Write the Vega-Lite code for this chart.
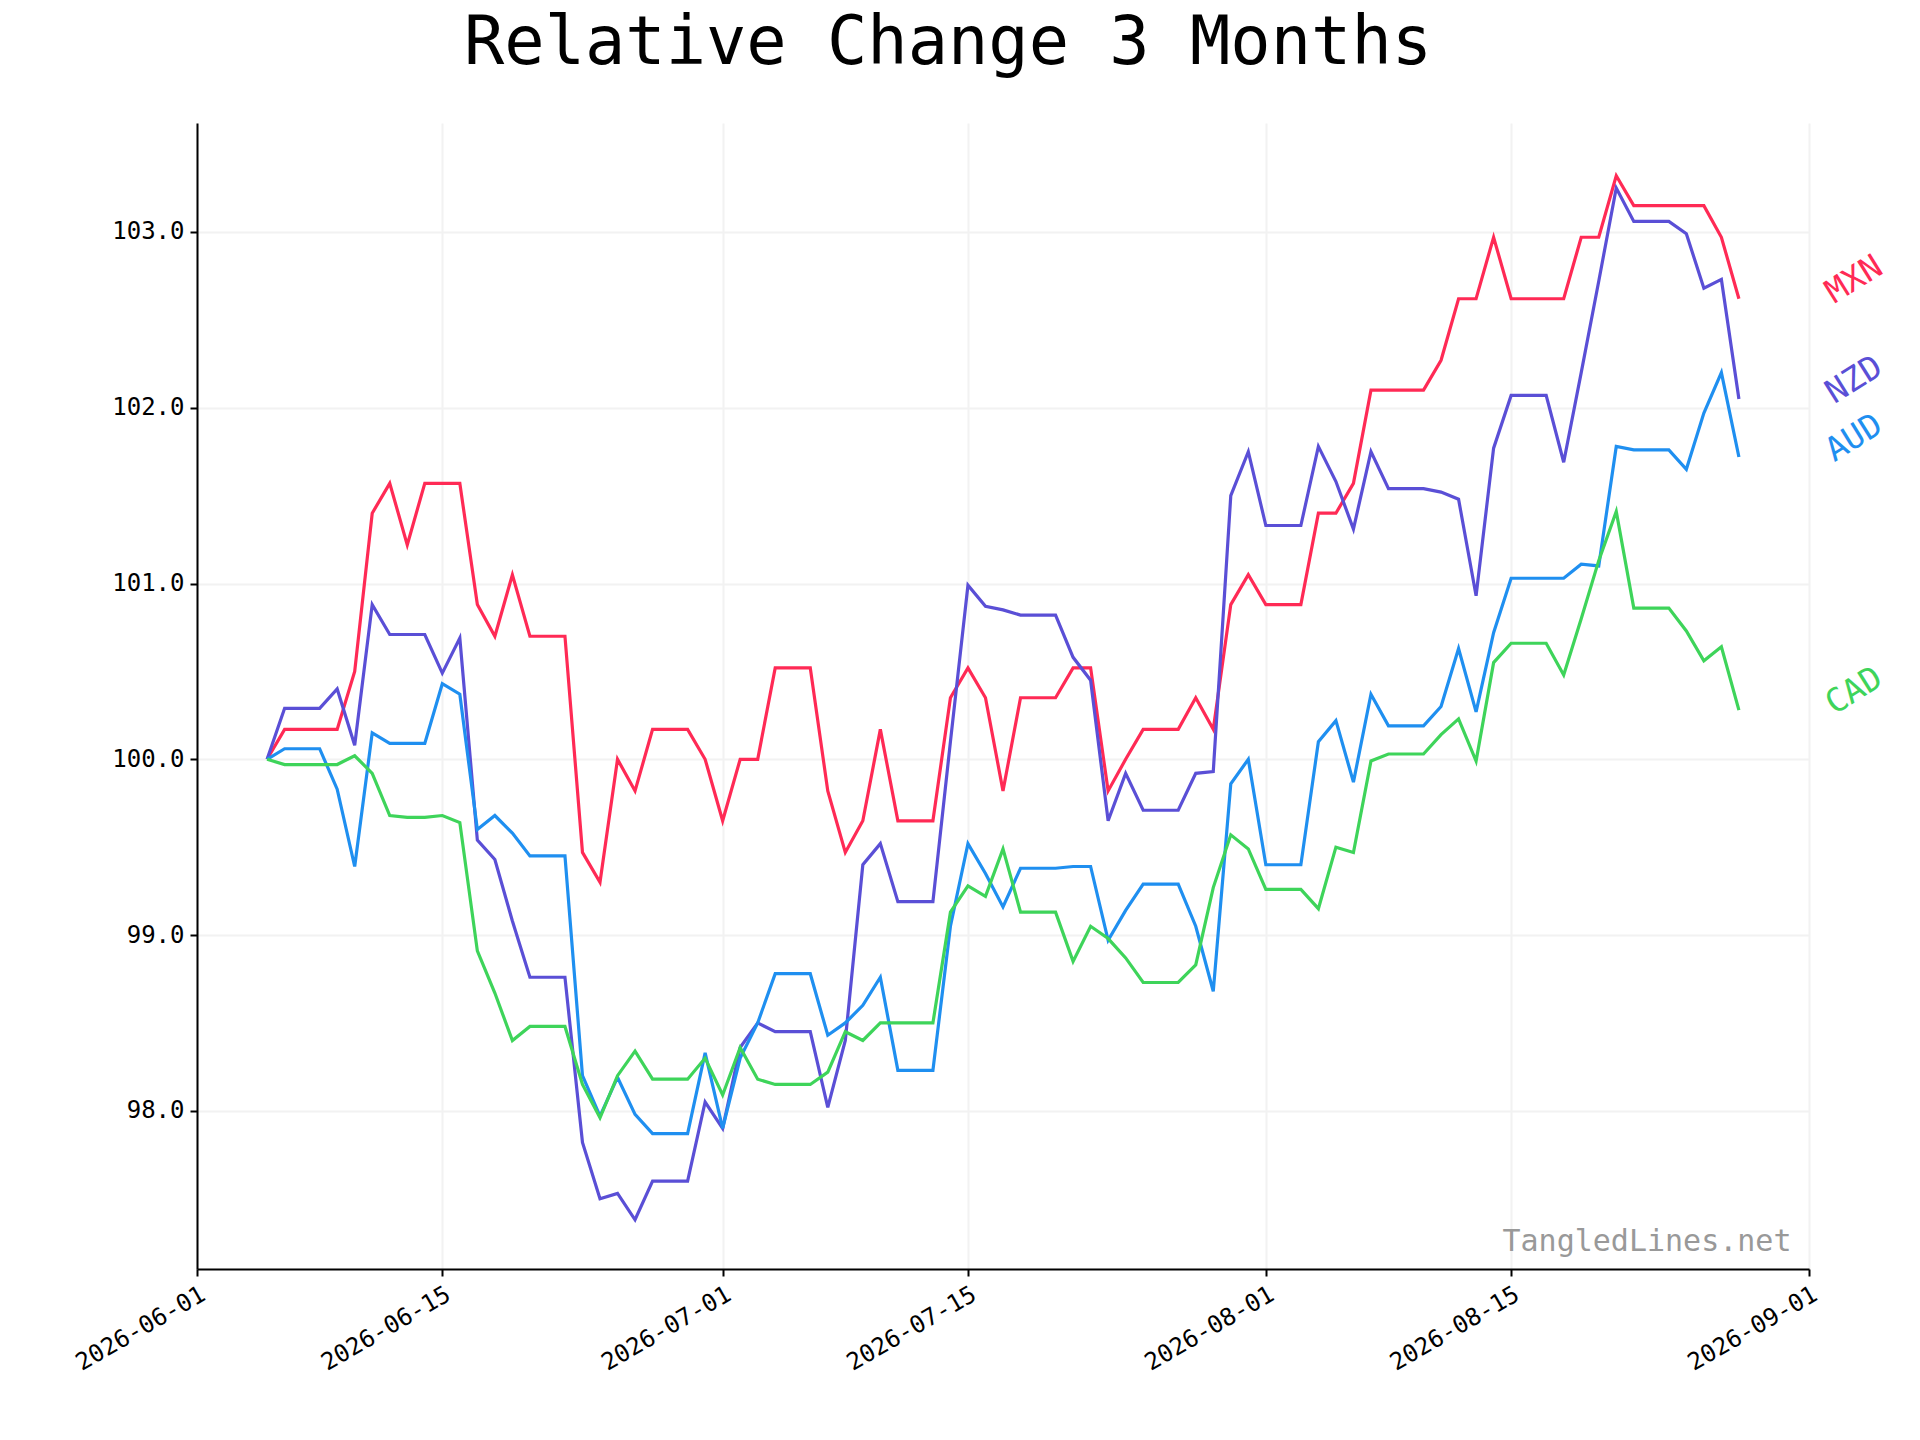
{
  "$schema": "https://vega.github.io/schema/vega-lite/v6.json",
  "autosize": {"type": "none"},
  "width": 1612,
  "height": 1146,
  "padding": {"left": 197, "top": 123, "right": 111, "bottom": 171},
  "background": "white",
  "config": {
    "font": "DejaVu Sans Mono",
    "view": {"stroke": null},
    "axis": {"labelFont": "DejaVu Sans Mono", "labelFontSize": 24, "labelColor": "black", "domainColor": "black", "domainWidth": 2, "tickColor": "black", "tickWidth": 2, "tickSize": 7, "gridColor": "#f2f2f2", "gridWidth": 2, "title": null}
  },
  "title": {"text": "Relative Change 3 Months", "font": "DejaVu Sans Mono", "fontSize": 67, "fontWeight": "normal", "offset": 45, "dx": -55, "color": "black"},
  "datasets": {"fx": [
    {"date":"2026-06-05","MXN":100,"NZD":100,"AUD":100,"CAD":100},
    {"date":"2026-06-06","MXN":100.17,"NZD":100.29,"AUD":100.06,"CAD":99.97},
    {"date":"2026-06-07","MXN":100.17,"NZD":100.29,"AUD":100.06,"CAD":99.97},
    {"date":"2026-06-08","MXN":100.17,"NZD":100.29,"AUD":100.06,"CAD":99.97},
    {"date":"2026-06-09","MXN":100.17,"NZD":100.4,"AUD":99.83,"CAD":99.97},
    {"date":"2026-06-10","MXN":100.5,"NZD":100.08,"AUD":99.39,"CAD":100.02},
    {"date":"2026-06-11","MXN":101.4,"NZD":100.88,"AUD":100.15,"CAD":99.92},
    {"date":"2026-06-12","MXN":101.57,"NZD":100.71,"AUD":100.09,"CAD":99.68},
    {"date":"2026-06-13","MXN":101.22,"NZD":100.71,"AUD":100.09,"CAD":99.67},
    {"date":"2026-06-14","MXN":101.57,"NZD":100.71,"AUD":100.09,"CAD":99.67},
    {"date":"2026-06-15","MXN":101.57,"NZD":100.49,"AUD":100.43,"CAD":99.68},
    {"date":"2026-06-16","MXN":101.57,"NZD":100.69,"AUD":100.37,"CAD":99.64},
    {"date":"2026-06-17","MXN":100.88,"NZD":99.54,"AUD":99.6,"CAD":98.91},
    {"date":"2026-06-18","MXN":100.7,"NZD":99.43,"AUD":99.68,"CAD":98.67},
    {"date":"2026-06-19","MXN":101.05,"NZD":99.08,"AUD":99.58,"CAD":98.4},
    {"date":"2026-06-20","MXN":100.7,"NZD":98.76,"AUD":99.45,"CAD":98.48},
    {"date":"2026-06-21","MXN":100.7,"NZD":98.76,"AUD":99.45,"CAD":98.48},
    {"date":"2026-06-22","MXN":100.7,"NZD":98.76,"AUD":99.45,"CAD":98.48},
    {"date":"2026-06-23","MXN":99.47,"NZD":97.82,"AUD":98.2,"CAD":98.15},
    {"date":"2026-06-24","MXN":99.3,"NZD":97.5,"AUD":97.97,"CAD":97.96},
    {"date":"2026-06-25","MXN":100.0,"NZD":97.53,"AUD":98.19,"CAD":98.2},
    {"date":"2026-06-26","MXN":99.82,"NZD":97.38,"AUD":97.98,"CAD":98.34},
    {"date":"2026-06-27","MXN":100.17,"NZD":97.6,"AUD":97.87,"CAD":98.18},
    {"date":"2026-06-28","MXN":100.17,"NZD":97.6,"AUD":97.87,"CAD":98.18},
    {"date":"2026-06-29","MXN":100.17,"NZD":97.6,"AUD":97.87,"CAD":98.18},
    {"date":"2026-06-30","MXN":100.0,"NZD":98.05,"AUD":98.33,"CAD":98.3},
    {"date":"2026-07-01","MXN":99.65,"NZD":97.9,"AUD":97.9,"CAD":98.09},
    {"date":"2026-07-02","MXN":100.0,"NZD":98.36,"AUD":98.3,"CAD":98.36},
    {"date":"2026-07-03","MXN":100.0,"NZD":98.5,"AUD":98.5,"CAD":98.18},
    {"date":"2026-07-04","MXN":100.52,"NZD":98.45,"AUD":98.78,"CAD":98.15},
    {"date":"2026-07-05","MXN":100.52,"NZD":98.45,"AUD":98.78,"CAD":98.15},
    {"date":"2026-07-06","MXN":100.52,"NZD":98.45,"AUD":98.78,"CAD":98.15},
    {"date":"2026-07-07","MXN":99.82,"NZD":98.02,"AUD":98.43,"CAD":98.22},
    {"date":"2026-07-08","MXN":99.47,"NZD":98.4,"AUD":98.5,"CAD":98.45},
    {"date":"2026-07-09","MXN":99.65,"NZD":99.4,"AUD":98.6,"CAD":98.4},
    {"date":"2026-07-10","MXN":100.17,"NZD":99.52,"AUD":98.76,"CAD":98.5},
    {"date":"2026-07-11","MXN":99.65,"NZD":99.19,"AUD":98.23,"CAD":98.5},
    {"date":"2026-07-12","MXN":99.65,"NZD":99.19,"AUD":98.23,"CAD":98.5},
    {"date":"2026-07-13","MXN":99.65,"NZD":99.19,"AUD":98.23,"CAD":98.5},
    {"date":"2026-07-14","MXN":100.35,"NZD":100.1,"AUD":99.05,"CAD":99.13},
    {"date":"2026-07-15","MXN":100.52,"NZD":100.99,"AUD":99.52,"CAD":99.28},
    {"date":"2026-07-16","MXN":100.35,"NZD":100.87,"AUD":99.35,"CAD":99.22},
    {"date":"2026-07-17","MXN":99.82,"NZD":100.85,"AUD":99.16,"CAD":99.49},
    {"date":"2026-07-18","MXN":100.35,"NZD":100.82,"AUD":99.38,"CAD":99.13},
    {"date":"2026-07-19","MXN":100.35,"NZD":100.82,"AUD":99.38,"CAD":99.13},
    {"date":"2026-07-20","MXN":100.35,"NZD":100.82,"AUD":99.38,"CAD":99.13},
    {"date":"2026-07-21","MXN":100.52,"NZD":100.58,"AUD":99.39,"CAD":98.85},
    {"date":"2026-07-22","MXN":100.52,"NZD":100.45,"AUD":99.39,"CAD":99.05},
    {"date":"2026-07-23","MXN":99.82,"NZD":99.65,"AUD":98.97,"CAD":98.98},
    {"date":"2026-07-24","MXN":100.0,"NZD":99.92,"AUD":99.14,"CAD":98.87},
    {"date":"2026-07-25","MXN":100.17,"NZD":99.71,"AUD":99.29,"CAD":98.73},
    {"date":"2026-07-26","MXN":100.17,"NZD":99.71,"AUD":99.29,"CAD":98.73},
    {"date":"2026-07-27","MXN":100.17,"NZD":99.71,"AUD":99.29,"CAD":98.73},
    {"date":"2026-07-28","MXN":100.35,"NZD":99.92,"AUD":99.05,"CAD":98.83},
    {"date":"2026-07-29","MXN":100.17,"NZD":99.93,"AUD":98.68,"CAD":99.27},
    {"date":"2026-07-30","MXN":100.88,"NZD":101.5,"AUD":99.86,"CAD":99.57},
    {"date":"2026-07-31","MXN":101.05,"NZD":101.75,"AUD":100.0,"CAD":99.49},
    {"date":"2026-08-01","MXN":100.88,"NZD":101.33,"AUD":99.4,"CAD":99.26},
    {"date":"2026-08-02","MXN":100.88,"NZD":101.33,"AUD":99.4,"CAD":99.26},
    {"date":"2026-08-03","MXN":100.88,"NZD":101.33,"AUD":99.4,"CAD":99.26},
    {"date":"2026-08-04","MXN":101.4,"NZD":101.78,"AUD":100.1,"CAD":99.15},
    {"date":"2026-08-05","MXN":101.4,"NZD":101.58,"AUD":100.22,"CAD":99.5},
    {"date":"2026-08-06","MXN":101.57,"NZD":101.31,"AUD":99.87,"CAD":99.47},
    {"date":"2026-08-07","MXN":102.1,"NZD":101.75,"AUD":100.37,"CAD":99.99},
    {"date":"2026-08-08","MXN":102.1,"NZD":101.54,"AUD":100.19,"CAD":100.03},
    {"date":"2026-08-09","MXN":102.1,"NZD":101.54,"AUD":100.19,"CAD":100.03},
    {"date":"2026-08-10","MXN":102.1,"NZD":101.54,"AUD":100.19,"CAD":100.03},
    {"date":"2026-08-11","MXN":102.27,"NZD":101.52,"AUD":100.3,"CAD":100.14},
    {"date":"2026-08-12","MXN":102.62,"NZD":101.48,"AUD":100.63,"CAD":100.23},
    {"date":"2026-08-13","MXN":102.62,"NZD":100.93,"AUD":100.27,"CAD":99.99},
    {"date":"2026-08-14","MXN":102.97,"NZD":101.77,"AUD":100.72,"CAD":100.55},
    {"date":"2026-08-15","MXN":102.62,"NZD":102.07,"AUD":101.03,"CAD":100.66},
    {"date":"2026-08-16","MXN":102.62,"NZD":102.07,"AUD":101.03,"CAD":100.66},
    {"date":"2026-08-17","MXN":102.62,"NZD":102.07,"AUD":101.03,"CAD":100.66},
    {"date":"2026-08-18","MXN":102.62,"NZD":101.69,"AUD":101.03,"CAD":100.48},
    {"date":"2026-08-19","MXN":102.97,"NZD":102.2,"AUD":101.11,"CAD":100.8},
    {"date":"2026-08-20","MXN":102.97,"NZD":102.72,"AUD":101.1,"CAD":101.13},
    {"date":"2026-08-21","MXN":103.32,"NZD":103.25,"AUD":101.78,"CAD":101.41},
    {"date":"2026-08-22","MXN":103.15,"NZD":103.06,"AUD":101.76,"CAD":100.86},
    {"date":"2026-08-23","MXN":103.15,"NZD":103.06,"AUD":101.76,"CAD":100.86},
    {"date":"2026-08-24","MXN":103.15,"NZD":103.06,"AUD":101.76,"CAD":100.86},
    {"date":"2026-08-25","MXN":103.15,"NZD":102.99,"AUD":101.65,"CAD":100.73},
    {"date":"2026-08-26","MXN":103.15,"NZD":102.68,"AUD":101.97,"CAD":100.56},
    {"date":"2026-08-27","MXN":102.97,"NZD":102.73,"AUD":102.2,"CAD":100.64},
    {"date":"2026-08-28","MXN":102.62,"NZD":102.05,"AUD":101.72,"CAD":100.28}
  ],
  "mark": [{"label": "TangledLines.net", "x": "2026-08-31", "y": 97.17}]},
  "layer": [
    {
      "data": {"name": "fx"},
      "transform": [{"fold": ["MXN", "NZD", "AUD", "CAD"], "as": ["currency", "value"]}],
      "encoding": {
        "x": {"field": "date", "type": "temporal",
          "scale": {"domain": [{"year": 2026, "month": 6, "date": 1}, {"year": 2026, "month": 9, "date": 1}]},
          "axis": {"values": [
            {"year": 2026, "month": 6, "date": 1}, {"year": 2026, "month": 6, "date": 15},
            {"year": 2026, "month": 7, "date": 1}, {"year": 2026, "month": 7, "date": 15},
            {"year": 2026, "month": 8, "date": 1}, {"year": 2026, "month": 8, "date": 15},
            {"year": 2026, "month": 9, "date": 1}],
            "format": "%Y-%m-%d", "labelAngle": 330, "labelAlign": "right", "labelBaseline": "top", "labelPadding": 6}},
        "y": {"field": "value", "type": "quantitative",
          "scale": {"domain": [97.1, 103.62], "nice": false, "zero": false},
          "axis": {"values": [98, 99, 100, 101, 102, 103], "labelPadding": 6}},
        "color": {"field": "currency", "type": "nominal", "legend": null,
          "scale": {"domain": ["MXN", "NZD", "AUD", "CAD"], "range": ["#ff2a55", "#5a4fd6", "#1f8ff0", "#3ed45a"]}}
      },
      "layer": [
        {"mark": {"type": "line", "strokeWidth": 3.2}},
        {"transform": [{"filter": "month(datum.date) == 7 && date(datum.date) == 28"}],
          "mark": {"type": "text", "fontSize": 33, "angle": 328, "align": "left", "baseline": "middle", "dx": 78, "dy": 45},
          "encoding": {"text": {"field": "currency"}}}
      ]
    },
    {
      "data": {"name": "mark"},
      "mark": {"type": "text", "font": "DejaVu Sans Mono", "fontSize": 30, "color": "#999999", "align": "right", "baseline": "bottom"},
      "encoding": {"x": {"field": "x", "type": "temporal"}, "y": {"field": "y", "type": "quantitative"}, "text": {"field": "label"}}
    }
  ]
}
